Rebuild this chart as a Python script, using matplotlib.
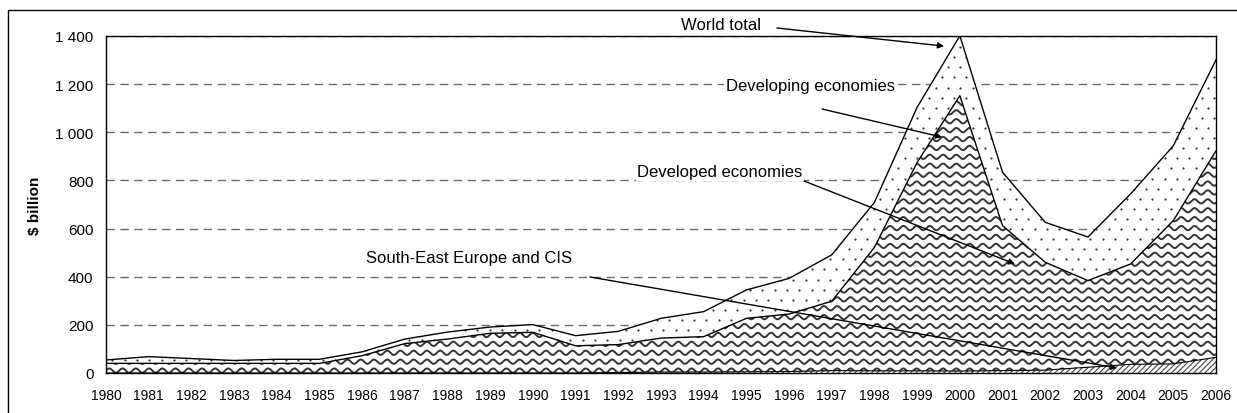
import numpy as np
import matplotlib
matplotlib.use("Agg")
from matplotlib import pyplot as plt
from matplotlib.patches import Rectangle

plt.rcParams['font.family'] = ['Liberation Sans', 'DejaVu Sans']
plt.rcParams['hatch.linewidth'] = 0.8

years = np.arange(1980, 2007)
see_cis = [0, 0, 0, 0, 0, 0, 0, 0, 0, 0, 0, 0, 2, 4, 4, 5, 6, 10, 9, 9, 8, 10, 12, 24, 36, 38, 65]
developed = [40, 40, 40, 40, 40, 40, 72, 122, 141, 165, 169, 113, 116, 141, 147, 222, 239, 288,
             513, 866, 1144, 602, 448, 360, 417, 595, 858]
developing = [14, 28, 20, 12, 17, 17, 16, 19, 29, 26, 32, 42, 55, 82, 104, 118, 148, 193,
              187, 229, 249, 222, 166, 181, 291, 311, 378]
ytick_vals = [0, 200, 400, 600, 800, 1000, 1200, 1400]
ytick_labels = ['0', '200', '400', '600', '800', '1 000', '1 200', '1 400']

# stacked levels
lvl1 = np.array(see_cis)
lvl2 = lvl1 + np.array(developed)
lvl3 = lvl2 + np.array(developing)

W, H = 1237, 414
fig = plt.figure(figsize=(W / 100, H / 100), dpi=100)
ax = fig.add_axes([106 / W, 40 / H, 1110 / W, 337 / H])

# outer frame
fig.patches.append(Rectangle((8 / W, -0.1), 1.0, (H - 11) / H + 0.1, transform=fig.transFigure,
                             fill=False, edgecolor='black', linewidth=1))

ax.set_xlim(1980, 2006)
ax.set_ylim(0, 1400)

# SEE and CIS
ax.fill_between(years, 0, lvl1, facecolor='white', edgecolor='#444444', hatch='//////',
                linewidth=0, zorder=1)

# developed economies, wavy texture
poly_dev = ax.fill_between(years, lvl1, lvl2, facecolor='white', edgecolor='none', zorder=1)
xs = np.linspace(1980, 2006, 3000)
clip_dev = poly_dev.get_paths()[0]
for k in range(-1, 36):
    yy = k * 37 + 10 + 9 * np.sin(2 * np.pi * (xs - 1980) / 0.31)
    ln, = ax.plot(xs, yy, color='#333333', lw=1.4, zorder=2)
    ln.set_clip_path(clip_dev, ax.transData)

# developing economies, dotted texture
poly_dvg = ax.fill_between(years, lvl2, lvl3, facecolor='white', edgecolor='none', zorder=1)
dx, dy = 0.29, 42
px, py = [], []
for j, yv in enumerate(np.arange(0, 1450, dy)):
    off = dx / 2 if j % 2 else 0
    for xv in np.arange(1980 + off, 2006.2, dx):
        px.append(xv)
        py.append(yv + 10)
dots = ax.scatter(px, py, s=2.5, color='#333333', linewidths=0, zorder=2)
dots.set_clip_path(poly_dvg.get_paths()[0], ax.transData)

ax.plot(years, lvl1, color='black', lw=0.8, zorder=3)
ax.plot(years, lvl2, color='black', lw=1, zorder=3)
ax.plot(years, lvl3, color='black', lw=1, zorder=3)

# grid
ax.set_axisbelow(True)
ax.yaxis.grid(True, color='#6a6a6a', linestyle=(0, (6, 4)), linewidth=1, zorder=0)
ax.set_yticks(ytick_vals)
ax.set_yticklabels(ytick_labels, fontsize=11)
ax.set_xticks(years)
ax.set_xticklabels([str(y) for y in years], fontsize=10)
ax.tick_params(axis='both', length=0)
ax.tick_params(axis='x', pad=11)
ax.tick_params(axis='y', pad=9)
for sp in ax.spines.values():
    sp.set_color('black')
    sp.set_linewidth(1)
    sp.set_zorder(5)
ax.set_ylabel('$ billion', fontsize=11, fontweight='bold')
ax.yaxis.set_label_coords(-0.058, 0.5)


def to_fig(x, y):
    return (x, H - y)


# labels and arrows
labels = [
    ('World total', (721, 26), (777, 29), (1999.63, 1358), None),
    ('Developing economies', (810, 87), (822, 110), (1999.58, 980), 'white'),
    ('Developed economies', (720, 173), (804, 182), (2001.29, 453), 'white'),
    ('South-East Europe and CIS', (469, 259), (590, 278), (2003.68, 21), None),
]
for txt, tpos, start, tip, bg in labels:
    kw = {}
    if bg:
        kw['bbox'] = dict(facecolor='white', edgecolor='none', pad=1)
    fig.text(tpos[0] / W, 1 - tpos[1] / H, txt, ha='center', va='center', fontsize=12,
             zorder=6, **kw)
    ax.annotate('', xy=tip, xycoords='data', xytext=to_fig(*start), textcoords='figure pixels',
                arrowprops=dict(arrowstyle='-|>', color='black', lw=1, shrinkA=0, shrinkB=0,
                                mutation_scale=9), zorder=6, annotation_clip=False)

plt.savefig("out.png", dpi=100)
plt.close()
